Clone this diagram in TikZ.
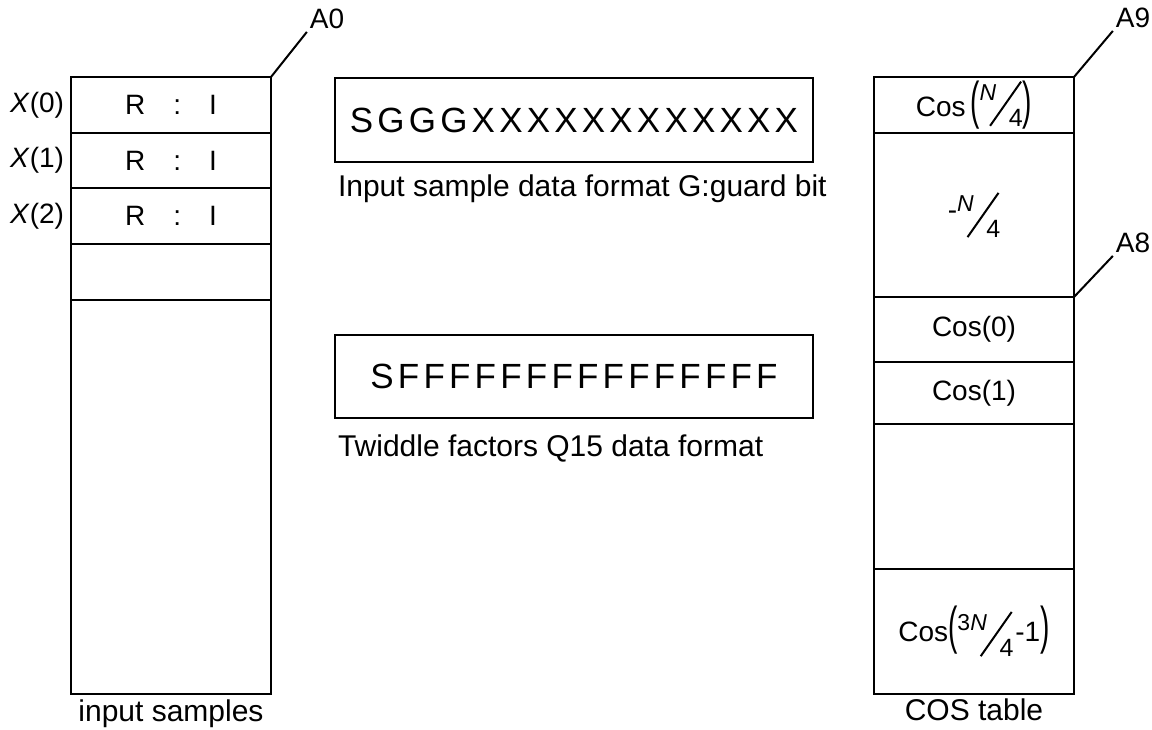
\documentclass[tikz,border=0pt]{standalone}
\usepackage{fontspec}
\setmainfont{Liberation Sans}
\usepackage{graphicx}
\usetikzlibrary{positioning}

% slanted fraction: raised numerator, long slash, lowered denominator
\newcommand{\slfrac}[2]{{\fontsize{11.5pt}{11.5pt}\selectfont\raisebox{13pt}{#1}}\kern-3.5pt%
  \rotatebox{55}{\rule{27pt}{1pt}}\kern-6.5pt{\fontsize{12.5pt}{12.5pt}\selectfont #2}}
\newcommand{\tallparen}[1]{\raisebox{-1pt}{\scalebox{1}[1.85]{#1}}}

\begin{document}
\begin{tikzpicture}[x=0.5pt,y=-0.5pt,line width=1pt,
  cell/.style={draw,outer sep=0pt,inner sep=0pt,minimum width=100pt,minimum height=28pt,
    font=\fontsize{14pt}{16pt}\selectfont},
  bits/.style={draw,outer sep=0pt,inner sep=0pt,minimum width=239pt,
    font=\fontsize{17.5pt}{20pt}\selectfont\addfontfeatures{LetterSpace=12}},
  caption/.style={inner sep=1pt,font=\fontsize{15pt}{17pt}\selectfont},
  addr/.style={inner sep=1pt,font=\fontsize{14pt}{16pt}\selectfont}]
  \useasboundingbox (0,0) rectangle (1152,729);

  % input samples
  \node[cell] (x0) at (171,105) {R\quad:\quad I};
  \node[cell,below=0pt of x0,minimum height=27.5pt] (x1) {R\quad:\quad I};
  \node[cell,below=0pt of x1] (x2) {R\quad:\quad I};
  \node[cell,below=0pt of x2] (x3) {};
  \node[cell,below=0pt of x3,minimum height=197pt] (x4) {};
  \node[addr,left=2pt of x0] (l0) {\textit{X}(0)};
  \node[addr,left=2pt of x1] (l1) {\textit{X}(1)};
  \node[addr,left=2pt of x2] (l2) {\textit{X}(2)};
  \node[caption,below=1.5pt of x4] (insamp) {input samples};
  \node[addr] (a0) at (327,19) {A0};
  \draw (x0.north east) -- (a0.south west);

  % data formats
  \node[bits,minimum height=42pt] (fmt) at (574,120) {SGGGXXXXXXXXXXXX};
  \node[caption,below right=5pt and 0pt of fmt.south west] (fmtcap) {Input sample data format G:guard bit};
  \node[bits,minimum height=41.5pt] (twid) at (574,376.5) {SFFFFFFFFFFFFFFF};
  \node[caption,below right=7pt and 0pt of twid.south west] (twidcap) {Twiddle factors Q15 data format};

  % COS table
  \node[cell] (c0) at (974,105) {Cos\,\tallparen{(}\raisebox{-5pt}{\slfrac{\textit{N}}{4}}\tallparen{)}};
  \node[cell,below=0pt of c0,minimum height=82pt] (c1) {\raisebox{9pt}{-}\slfrac{\textit{N}}{4}};
  \node[cell,below=0pt of c1,minimum height=32.5pt] (c2) {Cos(0)};
  \node[cell,below=0pt of c2,minimum height=31pt] (c3) {Cos(1)};
  \node[cell,below=0pt of c3,minimum height=72.5pt] (c4) {};
  \node[cell,below=0pt of c4,minimum height=62.5pt] (c5) {Cos\tallparen{(}\raisebox{-7.5pt}{\slfrac{3\textit{N}}{4}}\kern1pt-1\tallparen{)}};
  \node[caption,below=1pt of c5] (costab) {COS table};
  \node[addr] (a9) at (1133,18) {A9};
  \node[addr] (a8) at (1133,243) {A8};
  \draw (c0.north east) -- (a9.south west);
  \draw (c1.south east) -- (a8.south west);
\end{tikzpicture}
\end{document}
